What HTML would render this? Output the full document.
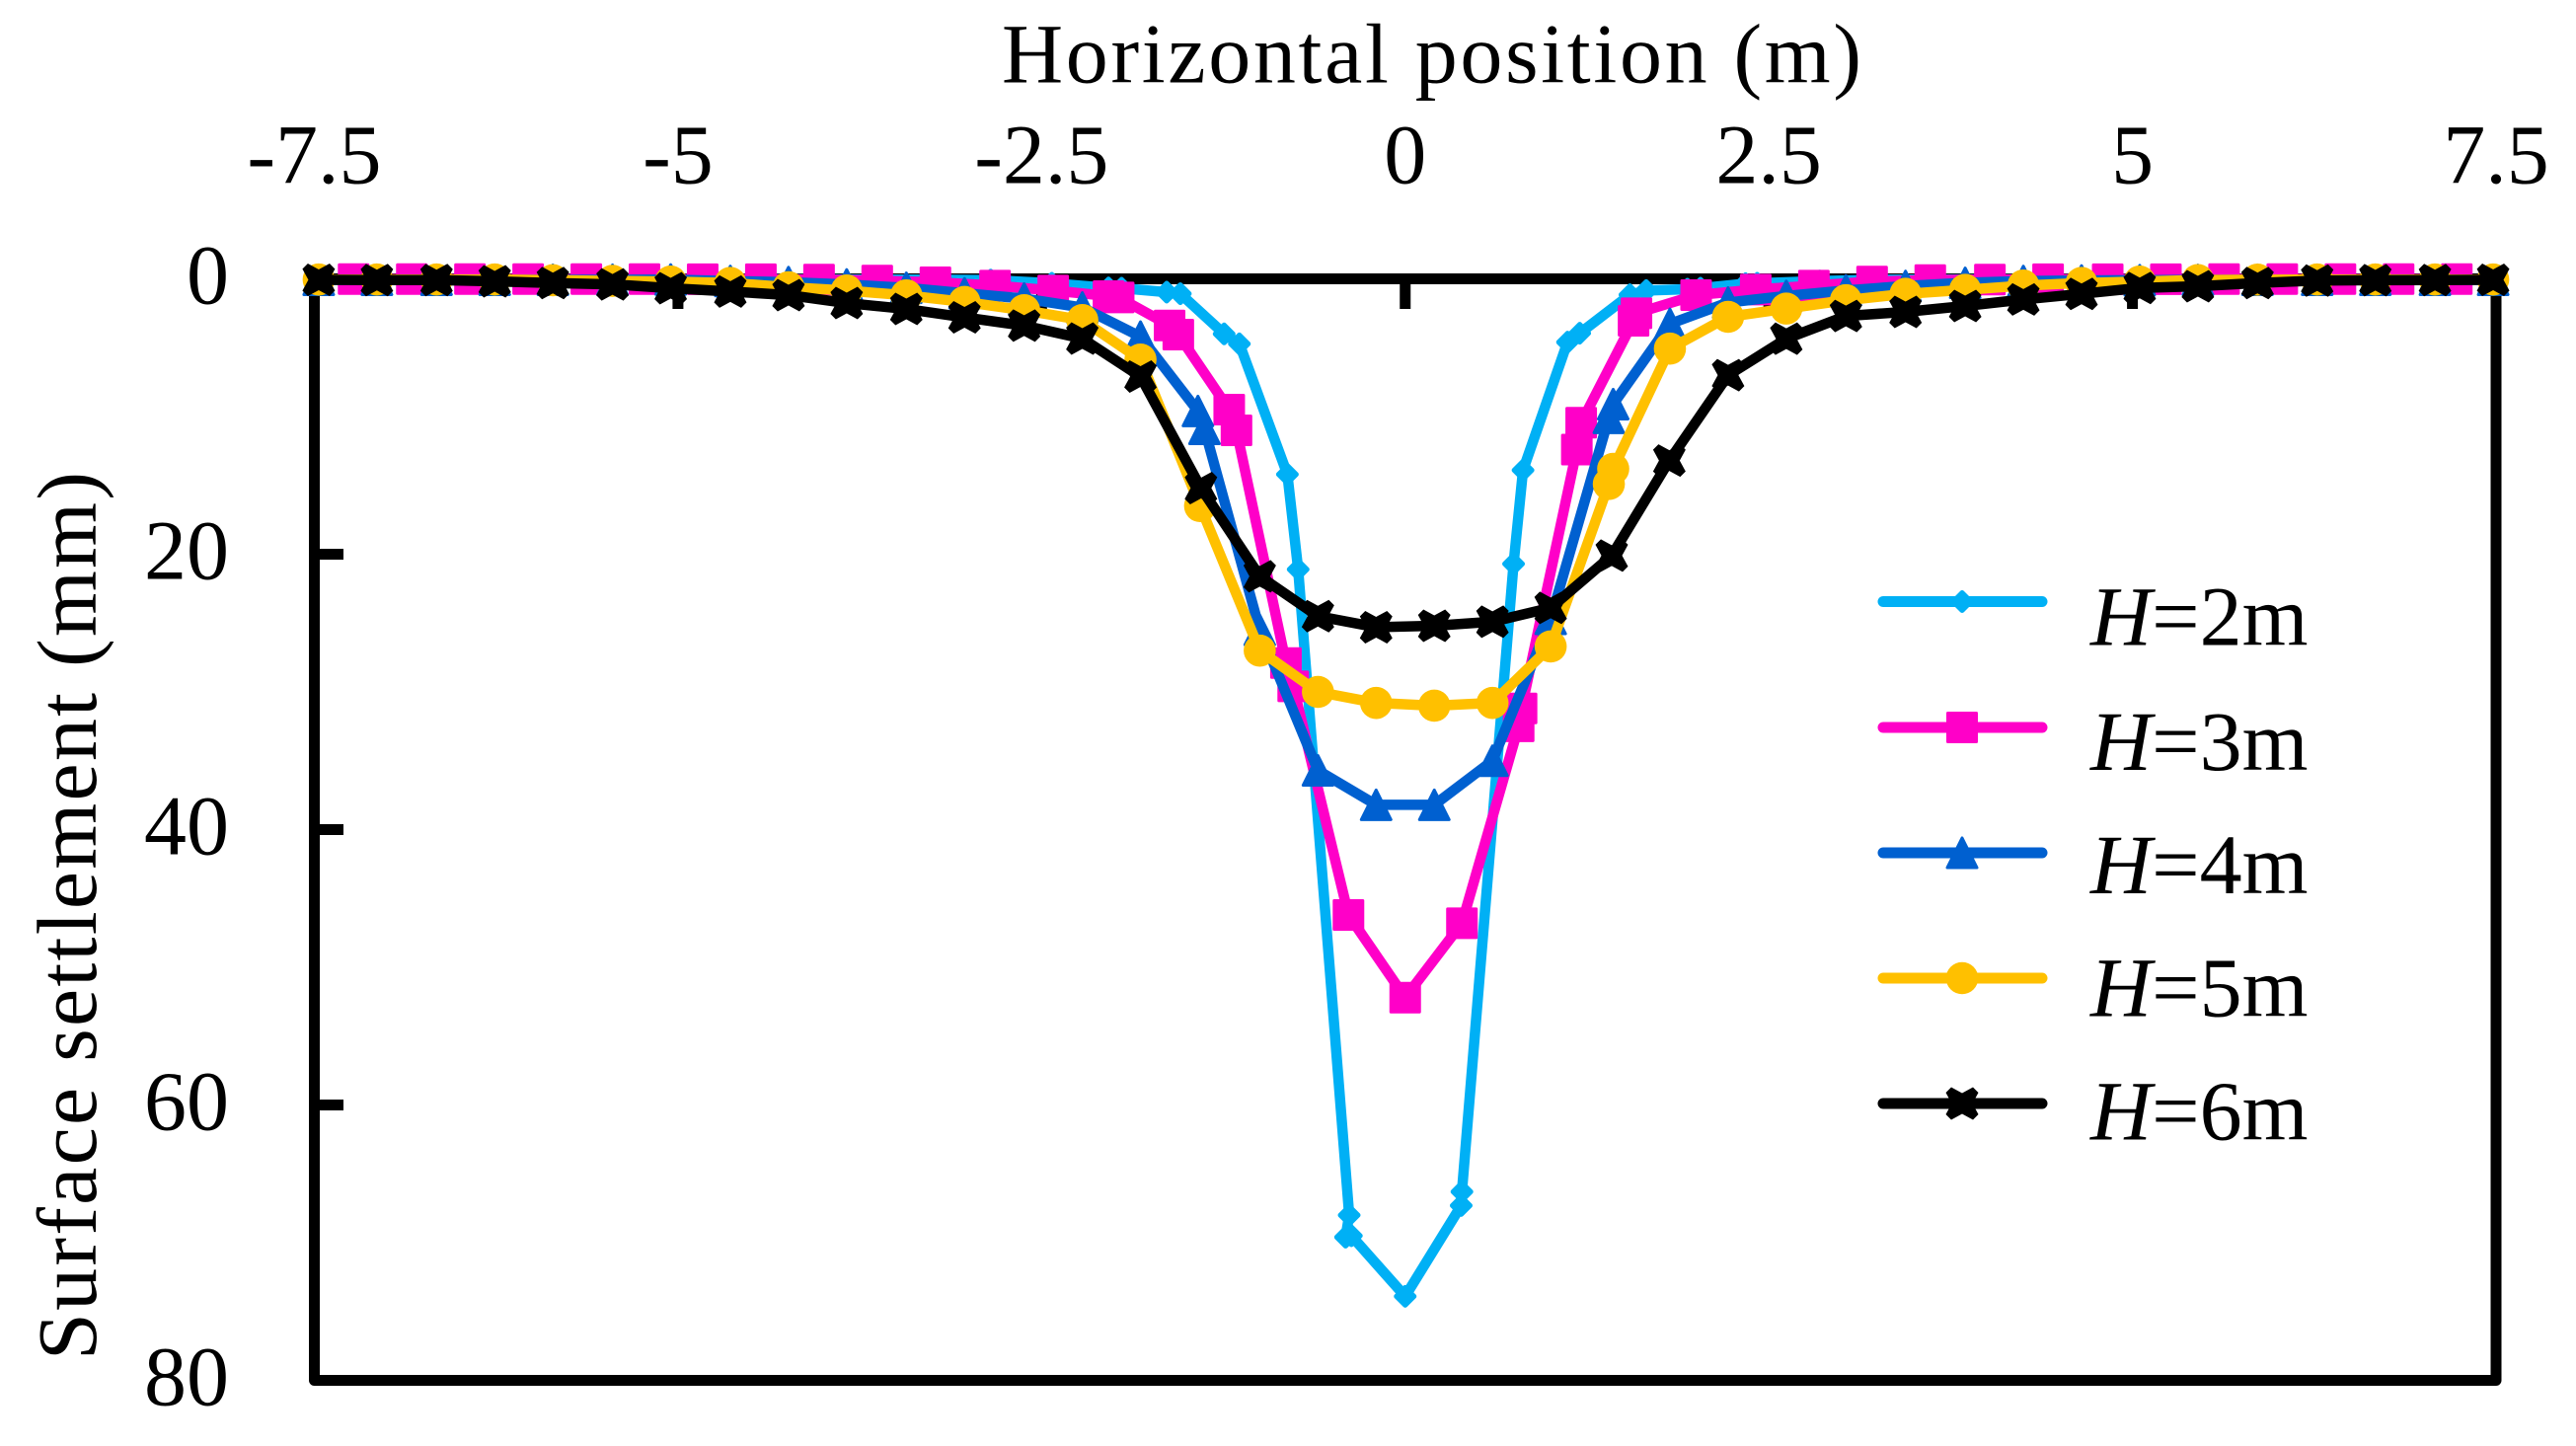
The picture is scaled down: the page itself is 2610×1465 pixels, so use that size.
<!DOCTYPE html>
<html lang="en">
<head>
<meta charset="utf-8">
<title>Surface settlement vs horizontal position</title>
<style>
html,body{margin:0;padding:0;background:#fff;}
svg{display:block;}
text{font-family:"Liberation Serif","DejaVu Serif",serif;fill:#000;}
</style>
</head>
<body>
<svg id="chart" xmlns="http://www.w3.org/2000/svg" width="2610" height="1465" viewBox="0 0 2610 1465">
  <rect x="0" y="0" width="2610" height="1465" fill="#fff"/>
  <text x="1015" y="83.5" font-size="86" textLength="871" lengthAdjust="spacing">Horizontal position (m)</text>
  <text transform="translate(97,1378) rotate(-90)" font-size="86" textLength="900" lengthAdjust="spacing">Surface settlement (mm)</text>
  <g id="axes"></g>
  <g id="series"></g>
  <g id="legend">
    <text x="2118" y="653.5" font-size="86"><tspan font-style="italic">H</tspan>=2m</text>
    <text x="2118" y="780" font-size="86"><tspan font-style="italic">H</tspan>=3m</text>
    <text x="2118" y="905" font-size="86"><tspan font-style="italic">H</tspan>=4m</text>
    <text x="2118" y="1029.5" font-size="86"><tspan font-style="italic">H</tspan>=5m</text>
    <text x="2118" y="1154.5" font-size="86"><tspan font-style="italic">H</tspan>=6m</text>
  </g>
</svg>
<script>
var xTickValues = [-7.5, -5, -2.5, 0, 2.5, 5, 7.5];
var xTickLabels = ["-7.5", "-5", "-2.5", "0", "2.5", "5", "7.5"];
var yTickValues = [0, 20, 40, 60, 80];
var yTickLabels = ["0", "20", "40", "60", "80"];

var xH2 = [-7.23,-6.83,-6.43,-6.03,-5.63,-5.23,-4.83,-4.43,-4.03,-3.63,-3.23,-2.85,-2.43,-2.04,-1.95,-1.64,-1.546,-1.245,-1.14,-0.81,-0.736,-0.385,-0.41,-0.37,0,0.385,0.39,0.745,0.81,1.116,1.2,1.545,1.657,1.94,2.03,2.34,2.42,2.85,3.23,3.63,4.03,4.43,4.83,5.23,5.63,6.03,6.43,6.83,7.23];
var yH2 = [0.02,0.02,0.02,0.02,0.03,0.03,0.03,0.03,0.04,0.05,0.06,0.09,0.32,0.66,0.68,0.97,1.08,4.0,4.72,14.2,21.1,68.0,69.6,69.5,73.9,67.3,66.3,20.7,13.9,4.6,3.95,1.16,0.85,0.75,0.68,0.35,0.32,0.16,0.06,0.05,0.04,0.03,0.03,0.03,0.02,0.02,0.02,0.02,0.02];

var xH3 = [-7.23,-6.83,-6.43,-6.03,-5.63,-5.23,-4.83,-4.43,-4.03,-3.63,-3.23,-2.82,-2.42,-2.04,-1.97,-1.62,-1.56,-1.21,-1.16,-0.82,-0.77,-0.39,0,0.39,0.78,0.8,1.18,1.21,1.57,1.59,2.0,2.41,2.81,3.21,3.61,4.02,4.42,4.83,5.23,5.63,6.03,6.43,6.83,7.23];
var yH3 = [0.02,0.02,0.02,0.02,0.02,0.02,0.03,0.03,0.05,0.13,0.25,0.49,0.85,1.25,1.35,3.39,4.05,9.5,11.0,27.9,29.6,46.2,52.2,46.8,32.5,31.2,12.4,10.45,3.05,2.5,1.18,0.78,0.49,0.2,0.09,0.05,0.03,0.03,0.03,0.02,0.02,0.02,0.02,0.02];

var xH4 = [-7.47,-7.07,-6.66,-6.26,-5.86,-5.45,-5.05,-4.64,-4.24,-3.84,-3.43,-3.03,-2.62,-2.22,-1.82,-1.425,-1.38,-1.0,-0.6,-0.2,0.2,0.6,1.0,1.40,1.43,1.82,2.22,2.62,3.03,3.44,3.85,4.25,4.65,5.05,5.45,5.86,6.27,6.67,7.08,7.48];
var yH4 = [0.07,0.07,0.07,0.07,0.07,0.07,0.05,0.16,0.24,0.41,0.65,1.05,1.43,2.08,4.2,9.6,10.9,25.5,35.7,38.2,38.2,35.0,24.7,10.1,9.1,3.27,1.72,1.24,0.84,0.52,0.29,0.16,0.12,0.1,0.08,0.07,0.07,0.07,0.07,0.07];

var xH5 = [-7.47,-7.07,-6.66,-6.26,-5.86,-5.45,-5.05,-4.64,-4.24,-3.84,-3.43,-3.03,-2.62,-2.22,-1.82,-1.41,-1.0,-0.6,-0.2,0.2,0.6,1.0,1.40,1.43,1.82,2.22,2.62,3.03,3.44,3.85,4.25,4.65,5.05,5.45,5.86,6.27,6.67,7.08,7.48];
var yH5 = [0.05,0.05,0.05,0.05,0.1,0.15,0.2,0.3,0.61,0.85,1.2,1.68,2.28,3.0,5.86,16.5,27.0,30.0,30.8,31.0,30.8,26.7,14.9,13.8,5.07,2.76,2.16,1.55,1.09,0.8,0.49,0.3,0.2,0.09,0.06,0.05,0.05,0.05,0.05];

var xH6 = [-7.47,-7.07,-6.66,-6.26,-5.86,-5.45,-5.05,-4.64,-4.24,-3.84,-3.43,-3.03,-2.62,-2.22,-1.82,-1.404,-1.0,-0.6,-0.2,0.2,0.6,1.0,1.42,1.816,2.22,2.62,3.03,3.44,3.85,4.25,4.65,5.05,5.45,5.86,6.27,6.67,7.08,7.48];
var yH6 = [0.07,0.09,0.09,0.18,0.3,0.4,0.68,0.92,1.18,1.76,2.19,2.8,3.4,4.34,7.1,15.2,21.6,24.5,25.3,25.2,24.9,23.9,20.1,13.2,7.0,4.35,2.7,2.4,1.97,1.5,1.09,0.66,0.54,0.3,0.13,0.1,0.09,0.07];

var colorH2 = "#00B0F5";
var colorH3 = "#FF00C8";
var colorH4 = "#0060D0";
var colorH5 = "#FFC000";
var colorH6 = "#000000";

var NS = "http://www.w3.org/2000/svg";
var plotLeft = 318.5, plotRight = 2529, plotTop = 282.5, plotBottom = 1398.5;
function sx(v){ return plotLeft + (v + 7.5) / 15 * (plotRight - plotLeft); }
function sy(v){ return plotTop + v / 80 * (plotBottom - plotTop); }

function mk(tag, attrs, parent){
  var e = document.createElementNS(NS, tag);
  for (var k in attrs) e.setAttribute(k, attrs[k]);
  parent.appendChild(e);
  return e;
}

function drawMarker(kind, color, px, py, parent){
  var g = mk("g", {transform: "translate(" + px.toFixed(2) + "," + py.toFixed(2) + ")"}, parent);
  
  
  if (kind === "diamond") {
    mk("polygon", {points: "0,-9 9,0 0,9 -9,0", fill: color, stroke: color, "stroke-width": 5, "stroke-linejoin": "round"}, g);
  } else if (kind === "square") {
    mk("rect", {x: -14.5, y: -14.5, width: 29, height: 29, fill: color, stroke: color, "stroke-width": 3, "stroke-linejoin": "round"}, g);
  } else if (kind === "triangle") {
    mk("polygon", {points: "0,-15 15,15 -15,15", fill: color, stroke: color, "stroke-width": 3, "stroke-linejoin": "round"}, g);
  } else if (kind === "circle") {
    mk("circle", {cx: 0, cy: 0, r: 16.3, fill: color}, g);
  } else {
    mk("polygon", {points: "-11,-16.5 0,-10.5 11,-16.5 16.5,-11 10.5,0 16.5,11 11,16.5 0,10.5 -11,16.5 -16.5,11 -10.5,0 -16.5,-11", fill: color}, g);
  }
}

function drawAxes(){
  var axes = document.getElementById("axes");
  var frame = mk("rect", {x: plotLeft, y: plotTop, width: plotRight - plotLeft, height: plotBottom - plotTop, fill: "none", stroke: "#000", "stroke-width": 11, "stroke-linejoin": "round"}, axes);
  
  
  xTickValues.forEach(function(v, i){
    if (i > 0 && i < xTickValues.length - 1) {
      var t = mk("line", {x1: sx(v), x2: sx(v), y1: plotTop, y2: 313, stroke: "#000", "stroke-width": 11}, axes);
      
      
    }
    var l = mk("text", {x: sx(v), y: 185.5, "font-size": 86, "text-anchor": "middle"}, axes);
    
    
    l.textContent = xTickLabels[i];
  });
  yTickValues.forEach(function(v, i){
    if (i > 0 && i < yTickValues.length - 1) {
      var t = mk("line", {x1: plotLeft, x2: 348, y1: sy(v), y2: sy(v), stroke: "#000", "stroke-width": 11}, axes);
      
      
    }
    var l = mk("text", {x: 232, y: sy(v) + 25, "font-size": 86, "text-anchor": "end"}, axes);
    
    
    l.textContent = yTickLabels[i];
  });
}

function drawSeries(name, xs, ys, color, kind){
  var root = document.getElementById("series");
  var g = mk("g", {}, root);
  
  
  var pts = xs.map(function(x, i){ return sx(x).toFixed(2) + "," + sy(ys[i]).toFixed(2); }).join(" ");
  var line = mk("polyline", {points: pts, fill: "none", stroke: color, "stroke-width": 10.5, "stroke-linejoin": "round", "stroke-linecap": "round"}, g);
  
  
  xs.forEach(function(x, i){ drawMarker(kind, color, sx(x), sy(ys[i]), g); });
}

function drawLegendEntry(name, lineY, color, kind){
  var root = document.getElementById("legend");
  var g = mk("g", {}, root);
  
  
  mk("line", {x1: 1908, x2: 2069, y1: lineY, y2: lineY, stroke: color, "stroke-width": 11, "stroke-linecap": "round"}, g);
  drawMarker(kind, color, 1988, lineY, g);
}

drawAxes();
drawSeries("h2", xH2, yH2, colorH2, "diamond");
drawSeries("h3", xH3, yH3, colorH3, "square");
drawSeries("h4", xH4, yH4, colorH4, "triangle");
drawSeries("h5", xH5, yH5, colorH5, "circle");
drawSeries("h6", xH6, yH6, colorH6, "cross");
drawLegendEntry("h2", 609.5, colorH2, "diamond");
drawLegendEntry("h3", 737, colorH3, "square");
drawLegendEntry("h4", 864, colorH4, "triangle");
drawLegendEntry("h5", 991, colorH5, "circle");
drawLegendEntry("h6", 1118, colorH6, "cross");
</script>
</body>
</html>
